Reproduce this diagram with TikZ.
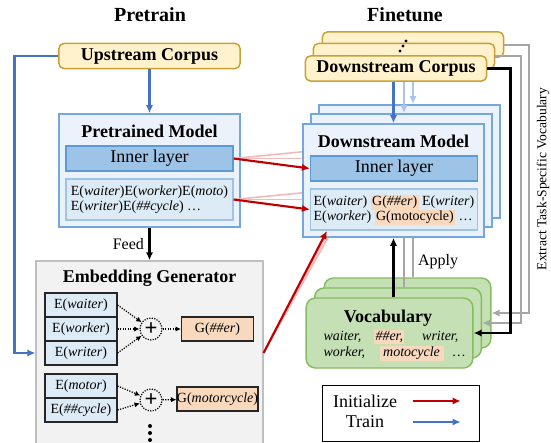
\documentclass[tikz,border=0pt]{standalone}
\usepackage{fontspec}
\setmainfont{Liberation Serif}
\usetikzlibrary{arrows.meta}

\definecolor{corpusfill}{HTML}{FFF2CC}
\definecolor{corpusline}{HTML}{C9A033}
\definecolor{modelfill}{HTML}{EBF2FB}
\definecolor{modelline}{HTML}{72A8DF}
\definecolor{innerfill}{HTML}{9DC3E6}
\definecolor{innerline}{HTML}{5B9BD5}
\definecolor{embfill}{HTML}{DDEBF7}
\definecolor{embline}{HTML}{9DC3E6}
\definecolor{genfill}{HTML}{F2F2F2}
\definecolor{genline}{HTML}{BFBFBF}
\definecolor{peachfill}{HTML}{F9D9BD}
\definecolor{vocabfill}{HTML}{C5E0B4}
\definecolor{vocabline}{HTML}{84BD5E}
\definecolor{initred}{HTML}{C00000}
\definecolor{trainblue}{HTML}{4472C4}
\definecolor{paleblue}{HTML}{A9C5EC}
\definecolor{palered}{HTML}{F3B9B9}
\definecolor{midgray}{HTML}{A6A6A6}

\newcommand{\peach}[1]{{\setlength{\fboxsep}{1pt}\smash{\colorbox{peachfill}{#1}}}}

\begin{document}
\begin{tikzpicture}[x=0.75pt, y=-0.75pt, thick,
  box/.style={inner sep=0pt, line width=1.1pt},
  corpusbox/.style={box, draw=corpusline, fill=corpusfill, rounded corners=4pt, minimum width=136pt, minimum height=19pt, font=\bfseries\fontsize{13.5}{16}\selectfont},
  modelbox/.style={box, draw=modelline, fill=modelfill, minimum width=136pt, minimum height=85pt},
  innerbox/.style={box, draw=innerline, fill=innerfill, minimum width=125pt, minimum height=19pt, font=\fontsize{13.5}{16}\selectfont},
  embbox/.style={box, draw=embline, fill=embfill, minimum width=125pt, minimum height=31pt},
  embtext/.style={align=left, inner sep=0pt, font=\fontsize{10.5}{11.25}\selectfont},
  genbox/.style={box, draw=genline, fill=genfill, minimum width=170pt, minimum height=138pt},
  ebox/.style={box, draw=black!85, line width=0.9pt, fill=embfill, minimum width=54pt, minimum height=18pt, font=\fontsize{10.5}{12}\selectfont},
  gbox/.style={ebox, fill=peachfill},
  plusnode/.style={draw, circle, densely dotted, line width=0.9pt, minimum size=16.5pt, inner sep=0pt, font=\bfseries\fontsize{17}{17}\selectfont},
  vocabbox/.style={box, draw=vocabline, fill=vocabfill, rounded corners=7pt, minimum width=125pt, minimum height=52.5pt},
  headline/.style={font=\bfseries\fontsize{15}{18}\selectfont},
  boxtitle/.style={font=\bfseries\fontsize{13.5}{16}\selectfont},
  note/.style={font=\fontsize{12}{14}\selectfont},
  initarrow/.style={draw=initred, line width=1.6pt, -{Latex[length=6pt,width=5.5pt]}},
  trainarrow/.style={draw=trainblue, line width=1.6pt, -{Latex[length=6pt,width=5.5pt]}},
  palearrow/.style={draw=paleblue, line width=1.6pt, -{Latex[length=6pt,width=5.5pt]}},
  faintred/.style={draw=palered, line width=1.2pt},
  grayline/.style={draw=midgray, line width=1.5pt},
  grayarrow/.style={grayline, -{Latex[length=6pt,width=5.5pt]}},
  blackarrow/.style={draw=black, line width=1.8pt, -{Latex[length=6pt,width=5.5pt]}},
  dotarrow/.style={densely dotted, line width=0.9pt, -{Latex[length=4pt,width=4pt]}}]
\useasboundingbox (0,0) rectangle (551,443);
\clip (0,0) rectangle (551,443);

\node[headline] (pretrain) at (150,15) {Pretrain};
\node[headline] (finetune) at (405,15) {Finetune};

% pretrain side
\node[corpusbox] (upcorpus) at (149.5,56) {Upstream Corpus};
\node[modelbox] (ptmodel) at (149.5,170.5) {};
\node[boxtitle] (pttitle) at (149.5,131) {Pretrained Model};
\node[innerbox] (ptinner) at (149.5,158.5) {Inner layer};
\node[embbox] (ptemb) at (149.5,199.5) {};
\node[embtext] (ptembtxt) at (149.5,200) {E(\textit{waiter})E(\textit{worker})E(\textit{moto})\\E(\textit{writer})E(\textit{\#\#cycle}) …};

\node[genbox] (embgen) at (149.5,353) {};
\node[boxtitle] (gentitle) at (149.5,278) {Embedding Generator};
\node[ebox] (ewaiter) at (81,305) {E(\textit{waiter})};
\node[ebox] (eworker) at (81,329) {E(\textit{worker})};
\node[ebox] (ewriter) at (81,353) {E(\textit{writer})};
\node[ebox] (emotor) at (81,386) {E(\textit{motor})};
\node[ebox] (ecycle) at (81,410) {E(\textit{\#\#cycle})};
\node[plusnode] (plusa) at (151,329) {+};
\node[plusnode] (plusb) at (151,400) {+};
\node[gbox] (gner) at (217.5,329) {G(\textit{\#\#er})};
\node[gbox] (gmoto) at (217.5,399) {G(\textit{motorcycle})};
\fill (150,426) circle (1.5pt) (150,433) circle (1.5pt) (150,440) circle (1.5pt);
\draw[dotarrow] (ewaiter.east) -- (plusa);
\draw[dotarrow] (eworker.east) -- (plusa);
\draw[dotarrow] (ewriter.east) -- (plusa);
\draw[dotarrow] (plusa) -- (gner);
\draw[dotarrow] (emotor.east) -- (plusb);
\draw[dotarrow] (ecycle.east) -- (plusb);
\draw[dotarrow] (plusb) -- (gmoto);

% finetune side, copies behind
\node[corpusbox] (dcorpusc) at (413,44.5) {};
\node[corpusbox] (dcorpusb) at (404,56) {};
\fill (400,51) circle (1.2pt) (403,46) circle (1.2pt) (406,41) circle (1.2pt);
\node[modelbox] (dmodelc) at (409.5,161.5) {};
\node[modelbox] (dmodelb) at (401.5,170.5) {};
\node[vocabbox] (vocabc) at (407.5,313) {};
\node[vocabbox] (vocabb) at (398,323) {};

\coordinate (innerb) at (318,158.5);
\coordinate (innerc) at (326,149.5);
\coordinate (embb) at (318,199.5);
\coordinate (embc) at (326,190.5);
\coordinate (embbs) at (335,220);
\coordinate (embcs) at (343,211);
\draw[faintred] (ptinner.east) -- (innerb);
\draw[faintred] (ptinner.east) -- (innerc);
\draw[faintred] (ptemb.east) -- (embb);
\draw[faintred] (ptemb.east) -- (embc);
\draw[faintred] (embgen.east) -- (embbs);
\draw[faintred] (embgen.east) -- (embcs);
\draw[grayline] ([xshift=2pt]dmodelb.south) -- ([xshift=2pt]dmodelb.south |- vocabb.north);
\draw[grayline] ([xshift=2.5pt]dmodelc.south) -- ([xshift=2.5pt]dmodelc.south |- vocabc.north);
\draw[grayarrow] (dcorpusb.east) -- ++(25.5,0) |- (vocabb.east);
\draw[grayarrow] (dcorpusc.east) -- ++(24.5,0) |- (vocabc.east);

% front copies
\node[modelbox] (dmodel) at (393.5,180.5) {};
\node[boxtitle] (dtitle) at (393.5,141) {Downstream Model};
\node[innerbox] (dinner) at (394,168.5) {Inner layer};
\node[embbox] (demb) at (394,209.5) {};
\node[embtext] (dembtxt) at (394,210) {E(\textit{waiter}) \peach{G(\textit{\#\#er})} E(\textit{writer})\\E(\textit{worker}) \peach{G(motocycle)} …};
\node[corpusbox] (dcorpus) at (396,68.5) {Downstream Corpus};
\node[vocabbox] (vocab) at (389.5,333) {};
\node[boxtitle] (vtitle) at (388,318) {Vocabulary};
\node[anchor=west, align=left, inner sep=0pt, font=\itshape\fontsize{10.5}{12}\selectfont] (vwords) at (323,345)
  {\makebox[38pt][l]{waiter,}\makebox[36pt][l]{\peach{\#\#er,}}writer,\\
   \makebox[42pt][l]{worker,}\peach{\,motocycle\,}\hspace{7pt}…};

% connectors
\draw[trainarrow] (upcorpus) -- (ptmodel);
\draw[trainarrow] (upcorpus.west) -| ([xshift=-15.75pt]embgen.west) -- (embgen.west);
\draw[blackarrow] (ptmodel) -- node[note, left] {Feed} (embgen);
\draw[initarrow] (ptinner.east) -- (dinner.west);
\draw[initarrow] (ptemb.east) -- (demb.west);
\draw[initarrow] (embgen.east) -- ([xshift=12.75pt]demb.south west);
\draw[trainarrow] (dcorpus.south -| dmodel.north) -- (dmodel.north);
\draw[palearrow] ([xshift=6pt]dcorpus.south) -- ([xshift=6pt]dcorpus.south |- dmodelb.north);
\draw[palearrow] ([xshift=12.75pt]dcorpus.south) -- ([xshift=12.75pt]dcorpus.south |- dmodelc.north);
\draw[blackarrow] (vocab.north -| dmodel.south) -- (dmodel.south);
\node[note] (apply) at (438,262) {Apply};
\draw[blackarrow] (dcorpus.east) -- ++(23,0) |- (vocab.east);
\node[rotate=90, font=\fontsize{10.2}{12}\selectfont] (extract) at (543,179) {Extract Task-Specific Vocabulary};

% legend
\node[draw, line width=0.75pt, minimum width=117.75pt, minimum height=42pt] (legend) at (400.5,413) {};
\node[font=\fontsize{13.5}{16}\selectfont] (initlbl) at (365,401) {Initialize};
\node[font=\fontsize{13.5}{16}\selectfont] (trainlbl) at (365,422) {Train};
\draw[initarrow] ([xshift=8pt]initlbl.east) -- ++(48,0);
\draw[trainarrow] ([xshift=8pt]initlbl.east |- trainlbl) -- ++(48,0);
\end{tikzpicture}
\end{document}
